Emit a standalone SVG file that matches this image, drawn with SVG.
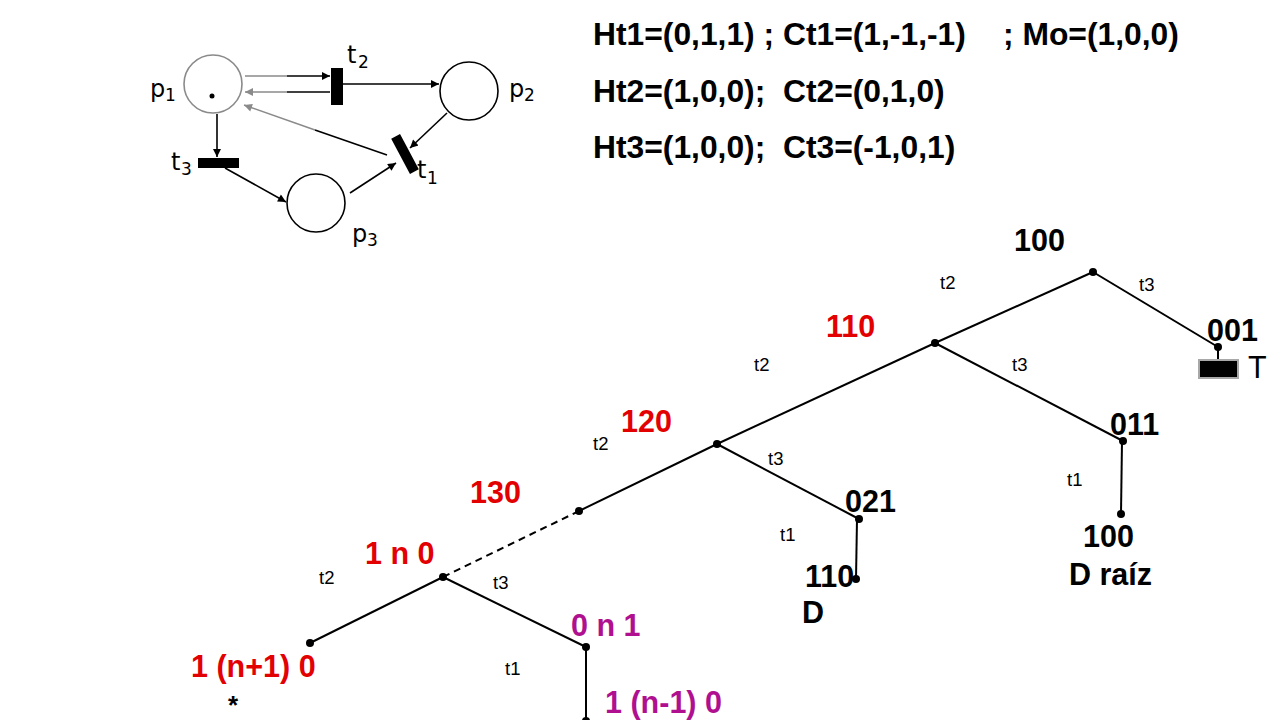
<svg xmlns="http://www.w3.org/2000/svg" width="1280" height="720" viewBox="0 0 1280 720">
<style>
.pl{fill:#fff;stroke:#000;stroke-width:1.6}
.arc{stroke:#000;stroke-width:1.6;fill:none}
.garc{stroke:#8a8a8a;stroke-width:1.6;fill:none}
.pn{font-family:"DejaVu Sans",sans-serif;font-size:24px;fill:#000}
.ps{font-family:"DejaVu Sans",sans-serif;font-size:17px;fill:#000}
.eq{font-family:"Liberation Sans",Arial,sans-serif;font-size:31.8px;font-weight:bold;fill:#000;white-space:pre}
.e{stroke:#000;stroke-width:2;fill:none}
.d{fill:#000}
.lb{font-family:"Liberation Sans",Arial,sans-serif;font-size:30.5px;font-weight:bold;fill:#000}
.red{fill:#e30000}
.pur{fill:#b0108f}
.tl{font-family:"Liberation Sans",Arial,sans-serif;font-size:18.5px;fill:#000}
</style>
<defs>
<marker id="ah" viewBox="0 0 10 10" refX="10" refY="5" markerWidth="10" markerHeight="8" markerUnits="userSpaceOnUse" orient="auto"><path d="M0,0 L10,5 L0,10 z" fill="#000"/></marker>
<marker id="ahg" viewBox="0 0 10 10" refX="10" refY="5" markerWidth="10" markerHeight="8" markerUnits="userSpaceOnUse" orient="auto"><path d="M0,0 L10,5 L0,10 z" fill="#8a8a8a"/></marker>
</defs>
<rect width="1280" height="720" fill="#fff"/>

<!-- Petri net -->
<g id="petri-arcs">
<line class="garc" x1="245" y1="76" x2="287" y2="76"/>
<line class="arc" x1="287" y1="76" x2="330" y2="76" marker-end="url(#ah)"/>
<line class="arc" x1="330" y1="92" x2="287" y2="92"/>
<line class="garc" x1="287" y1="92" x2="245" y2="92" marker-end="url(#ahg)"/>
<line class="arc" x1="343" y1="84" x2="439" y2="84" marker-end="url(#ah)"/>
<line class="arc" x1="217" y1="114" x2="217" y2="157" marker-end="url(#ah)"/>
<line class="arc" x1="225" y1="168" x2="286" y2="202" marker-end="url(#ah)"/>
<line class="arc" x1="350" y1="193" x2="396" y2="163" marker-end="url(#ah)"/>
<line class="arc" x1="447" y1="113" x2="410" y2="148" marker-end="url(#ah)"/>
<line class="arc" x1="387" y1="155" x2="315" y2="130"/>
<line class="garc" x1="315" y1="130" x2="244" y2="105" marker-end="url(#ahg)"/>
</g>
<g id="p1">
<circle cx="213" cy="84" r="29" fill="#fff" stroke="#8a8a8a" stroke-width="1.6"/>
<circle cx="212" cy="96" r="2.5" class="d"/>
<text class="pn" x="150" y="97">p</text><text class="ps" x="165" y="101">1</text>
</g>
<g id="p2">
<circle class="pl" cx="469" cy="91" r="29"/>
<text class="pn" x="509" y="97">p</text><text class="ps" x="524" y="101">2</text>
</g>
<g id="p3">
<circle class="pl" cx="316" cy="203" r="29"/>
<text class="pn" x="352" y="242">p</text><text class="ps" x="367" y="246">3</text>
</g>
<g id="t2">
<rect x="331" y="68" width="12" height="37" fill="#000"/>
<text class="pn" x="347" y="63">t</text><text class="ps" x="358" y="68">2</text>
</g>
<g id="t3">
<rect x="198" y="158" width="41" height="10" fill="#000"/>
<text class="pn" x="171" y="170">t</text><text class="ps" x="181" y="175">3</text>
</g>
<g id="t1">
<rect x="400" y="134" width="10" height="40" fill="#000" transform="rotate(-28 405 154)"/>
<text class="pn" x="417" y="178">t</text><text class="ps" x="427" y="184">1</text>
</g>

<!-- Equations -->
<g id="equations">
<text class="eq" x="593" y="45" xml:space="preserve">Ht1=(0,1,1) ; Ct1=(1,-1,-1)</text>
<text class="eq" x="1003" y="45">; Mo=(1,0,0)</text>
<text class="eq" x="593" y="102" xml:space="preserve">Ht2=(1,0,0);  Ct2=(0,1,0)</text>
<text class="eq" x="593" y="158" xml:space="preserve">Ht3=(1,0,0);  Ct3=(-1,0,1)</text>
</g>

<!-- Tree connectors -->
<g id="tree-edges">
<line class="e" x1="1093" y1="272" x2="935" y2="343"/>
<line class="e" x1="1093" y1="272" x2="1218" y2="347"/>
<line class="e" x1="1218" y1="347" x2="1218" y2="360"/>
<line class="e" x1="935" y1="343" x2="717" y2="444"/>
<line class="e" x1="935" y1="343" x2="1123" y2="441"/>
<line class="e" x1="1122" y1="441" x2="1121" y2="514"/>
<line class="e" x1="717" y1="444" x2="579" y2="511"/>
<line class="e" x1="717" y1="444" x2="859" y2="519"/>
<line class="e" x1="857" y1="519" x2="856" y2="579"/>
<line class="e" x1="579" y1="511" x2="443" y2="577" stroke-dasharray="7,5"/>
<line class="e" x1="443" y1="577" x2="310" y2="643"/>
<line class="e" x1="443" y1="577" x2="586" y2="647"/>
<line class="e" x1="586" y1="647" x2="586" y2="722"/>
<text class="tl" x="940" y="289">t2</text>
<text class="tl" x="1139" y="291">t3</text>
<text class="tl" x="754" y="371">t2</text>
<text class="tl" x="1012" y="371">t3</text>
<text class="tl" x="1067" y="486">t1</text>
<text class="tl" x="593" y="450">t2</text>
<text class="tl" x="768" y="465">t3</text>
<text class="tl" x="780" y="541">t1</text>
<text class="tl" x="319" y="584">t2</text>
<text class="tl" x="493" y="589">t3</text>
<text class="tl" x="505" y="675">t1</text>
</g>

<!-- Tree nodes -->
<g id="n100"><circle class="d" cx="1093" cy="272" r="4"/><text class="lb" x="1014" y="251">100</text></g>
<g id="n001"><circle class="d" cx="1218" cy="347" r="4"/><text class="lb" x="1207" y="341">001</text>
<rect x="1199" y="360" width="39" height="18" fill="#000" stroke="#a8a8a8" stroke-width="2"/><text class="lb" x="1248" y="378" style="font-weight:normal">T</text></g>
<g id="n110"><circle class="d" cx="935" cy="343" r="4"/><text class="lb red" x="826" y="337">110</text></g>
<g id="n011"><circle class="d" cx="1123" cy="441" r="4"/><text class="lb" x="1110" y="435">011</text></g>
<g id="n100b"><circle class="d" cx="1121" cy="514" r="4"/><text class="lb" x="1083" y="547">100</text><text class="lb" x="1069" y="585">D raíz</text></g>
<g id="n120"><circle class="d" cx="717" cy="444" r="4"/><text class="lb red" x="621" y="432">120</text></g>
<g id="n021"><circle class="d" cx="859" cy="519" r="4"/><text class="lb" x="845" y="512">021</text></g>
<g id="n110b"><circle class="d" cx="856" cy="579" r="4"/><text class="lb" x="805" y="587">110</text><text class="lb" x="802" y="623">D</text></g>
<g id="n130"><circle class="d" cx="579" cy="511" r="4"/><text class="lb red" x="470" y="503">130</text></g>
<g id="n1n0"><circle class="d" cx="443" cy="577" r="4"/><text class="lb red" x="365" y="564">1 n 0</text></g>
<g id="n1np10"><circle class="d" cx="310" cy="643" r="4"/><text class="lb red" x="191" y="677">1 (n+1) 0</text><text class="lb" x="228" y="714" style="font-size:26px">*</text></g>
<g id="n0n1"><circle class="d" cx="586" cy="647" r="4"/><text class="lb pur" x="571" y="636">0 n 1</text></g>
<g id="n1nm10"><circle class="d" cx="586" cy="721" r="4"/><text class="lb pur" x="605" y="713">1 (n-1) 0</text></g>
</svg>
